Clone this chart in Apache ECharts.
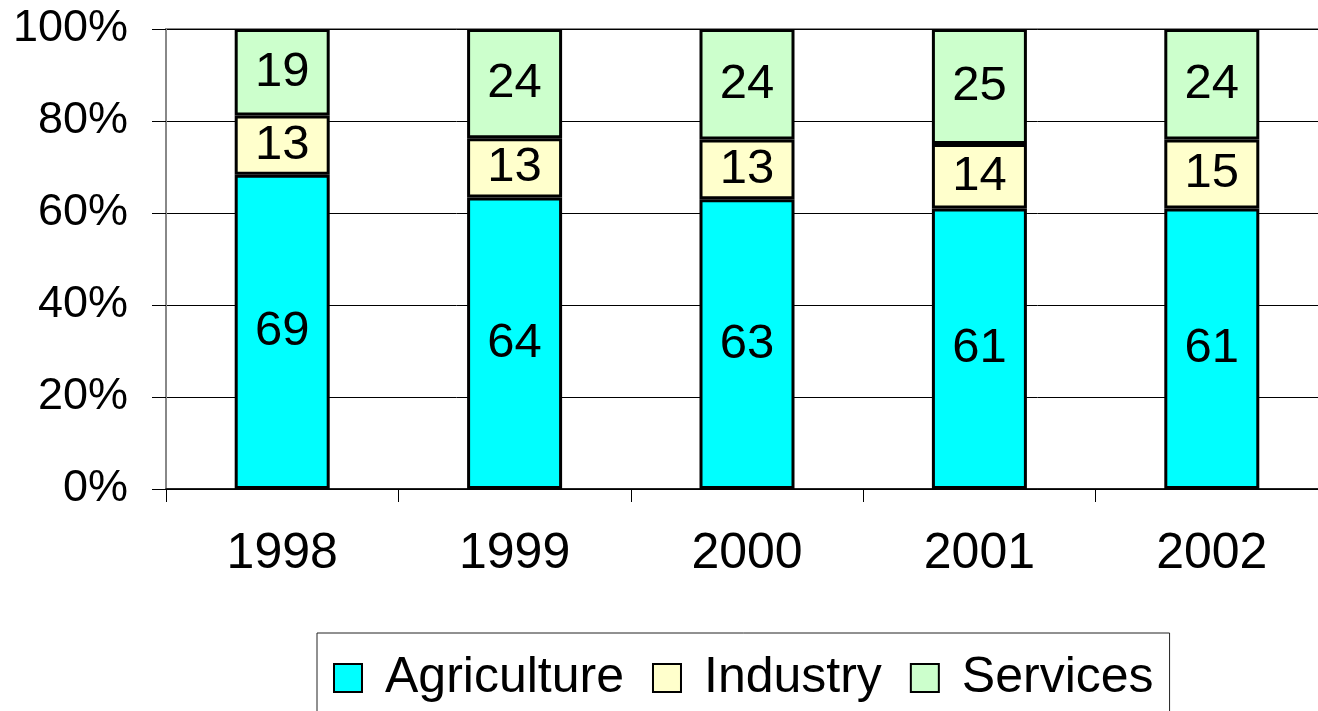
<!DOCTYPE html>
<html>
<head>
<meta charset="utf-8">
<script src="https://cdn.jsdelivr.net/npm/echarts@6/dist/echarts.min.js"></script>
<style>
  html, body { margin: 0; padding: 0; background: #fff; overflow: hidden; }
  #chart { width: 1328px; height: 711px; }
</style>
</head>
<body>
<div id="chart"></div>
<script>
const years = ["1998", "1999", "2000", "2001", "2002"];
const agriculture = [69, 64, 63, 61, 61];
const industry = [13, 13, 13, 14, 15];
const services = [19, 24, 24, 25, 24];
const yTicks = [0, 20, 40, 60, 80, 100];

const FONT = "'Liberation Sans', Arial, sans-serif";
const totals = years.map((_, i) => agriculture[i] + industry[i] + services[i]);
const pct = (arr) => arr.map((v, i) => (v / totals[i]) * 100);

function makeSeries(name, raw, color) {
  return {
    name,
    type: "bar",
    stack: "share",
    barWidth: 95,
    data: pct(raw),
    itemStyle: { color, borderColor: "#000", borderWidth: 3 },
    label: {
      show: true,
      position: "inside",
      color: "#000",
      fontFamily: FONT,
      fontSize: 49,
      formatter: (p) => String(raw[p.dataIndex]),
    },
  };
}

const chart = echarts.init(document.getElementById("chart"));
chart.setOption({
  animation: false,
  backgroundColor: "#fff",
  grid: {
    left: 166,
    right: 0,
    top: 29,
    bottom: 711 - 489,
    show: true,
    borderColor: "#888",
    borderWidth: 2,
    backgroundColor: "transparent",
  },
  legend: {
    left: 317,
    top: 633,
    padding: [20, 16, 40, 16],
    backgroundColor: "#fff",
    borderColor: "#222",
    borderWidth: 1,
    borderRadius: 0,
    itemWidth: 28,
    itemHeight: 28,
    itemGap: 28,
    icon: "rect",
    itemStyle: { borderWidth: 2, borderColor: "#000" },
    textStyle: {
      fontFamily: FONT,
      fontSize: 50,
      color: "#000",
      padding: [0, 0, 0, 18],
    },
    data: ["Agriculture", "Industry", "Services"],
  },
  xAxis: {
    type: "category",
    data: years,
    axisLine: { lineStyle: { color: "#000", width: 1.5 } },
    axisTick: { show: true, length: 13, lineStyle: { color: "#000" } },
    axisLabel: {
      color: "#000",
      fontFamily: FONT,
      fontSize: 50,
      margin: 40,
    },
  },
  yAxis: {
    type: "value",
    min: yTicks[0],
    max: yTicks[yTicks.length - 1],
    interval: yTicks[1] - yTicks[0],
    axisLine: { show: true, lineStyle: { color: "#888", width: 2 } },
    axisTick: { show: true, length: 14, lineStyle: { color: "#000" } },
    axisLabel: {
      color: "#000",
      fontFamily: FONT,
      fontSize: 45,
      margin: 38,
      formatter: (v) => v + "%",
    },
    splitLine: { show: true, lineStyle: { color: "#000", width: 1 } },
  },
  series: [
    makeSeries("Agriculture", agriculture, "#00ffff"),
    makeSeries("Industry", industry, "#ffffcc"),
    makeSeries("Services", services, "#ccffcc"),
  ],
});
</script>
</body>
</html>
